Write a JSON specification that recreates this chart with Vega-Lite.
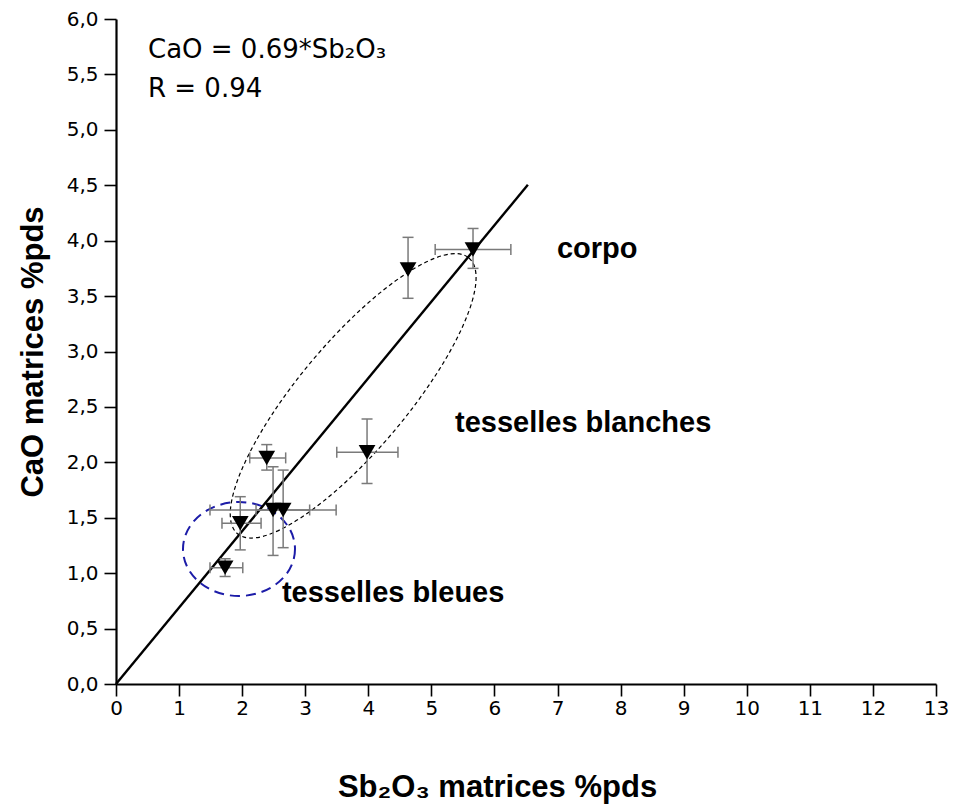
{
  "$schema": "https://vega.github.io/schema/vega-lite/v6.json",
  "width": 820,
  "height": 665,
  "autosize": {"type": "none"},
  "padding": {"left": 116, "top": 19, "right": 18, "bottom": 128},
  "background": "white",
  "config": {
    "view": {"stroke": null},
    "axis": {
      "grid": false,
      "domainColor": "black",
      "domainWidth": 2.2,
      "tickColor": "black",
      "tickWidth": 1.6,
      "labelFont": "DejaVu Sans",
      "labelFontSize": 20,
      "labelColor": "black",
      "labelOverlap": false,
      "labelFlush": false,
      "titleFont": "Liberation Sans",
      "titleFontSize": 31,
      "titleFontWeight": "bold",
      "titleColor": "black"
    }
  },
  "datasets": {
    "pts": [
      {"x": 1.73, "y": 1.05, "xlo": 1.49, "xhi": 2.01, "ylo": 0.97, "yhi": 1.13},
      {"x": 1.97, "y": 1.45, "xlo": 1.68, "xhi": 2.30, "ylo": 1.21, "yhi": 1.69},
      {"x": 2.49, "y": 1.57, "xlo": 1.49, "xhi": 3.49, "ylo": 1.16, "yhi": 1.96},
      {"x": 2.65, "y": 1.57, "xlo": 2.22, "xhi": 3.07, "ylo": 1.23, "yhi": 1.93},
      {"x": 2.39, "y": 2.04, "xlo": 2.12, "xhi": 2.69, "ylo": 1.93, "yhi": 2.16},
      {"x": 3.98, "y": 2.09, "xlo": 3.50, "xhi": 4.47, "ylo": 1.81, "yhi": 2.39},
      {"x": 4.63, "y": 3.74, "xlo": null, "xhi": null, "ylo": 3.48, "yhi": 4.03},
      {"x": 5.66, "y": 3.92, "xlo": 5.06, "xhi": 6.26, "ylo": 3.75, "yhi": 4.11}
    ],
    "fit": [
      {"x": 0, "y": 0},
      {"x": 6.53, "y": 4.505}
    ],
    "ell": [
      {"name": "bleu", "x": 1.95, "y": 1.218},
      {"name": "blanc", "x": 3.76, "y": 2.6}
    ],
    "labels": [
      {"label": "corpo", "x": 6.99, "y": 3.844},
      {"label": "tesselles blanches", "x": 5.374, "y": 2.274},
      {"label": "tesselles bleues", "x": 2.63, "y": 0.74}
    ],
    "eq": [
      {"label": "CaO = 0.69*Sb₂O₃", "x": 0.507, "y": 5.648},
      {"label": "R = 0.94", "x": 0.507, "y": 5.296}
    ]
  },
  "layer": [
    {
      "data": {"name": "ell"},
      "transform": [{"filter": "datum.name === 'bleu'"}],
      "mark": {
        "type": "point",
        "shape": "M 1 0 C 1 0.4634 0.5523 0.839 0 0.839 C -0.5523 0.839 -1 0.4634 -1 0 C -1 -0.4634 -0.5523 -0.839 0 -0.839 C 0.5523 -0.839 1 -0.4634 1 0 Z",
        "size": 12544,
        "filled": false,
        "color": "#1c1ca8",
        "stroke": "#1c1ca8",
        "strokeWidth": 2,
        "strokeDash": [10, 6],
        "opacity": 1
      },
      "encoding": {
        "x": {
          "field": "x",
          "type": "quantitative",
          "scale": {"domain": [0, 13], "nice": false, "zero": false},
          "axis": {
            "title": "Sb₂O₃ matrices %pds",
            "values": [0, 0.5, 1, 1.5, 2, 2.5, 3, 3.5, 4, 4.5, 5, 5.5, 6, 6.5, 7, 7.5, 8, 8.5, 9, 9.5, 10, 10.5, 11, 11.5, 12, 12.5, 13],
            "labelExpr": "datum.value % 1 === 0 ? format(datum.value, 'd') : ''",
            "tickSize": {"condition": {"test": "datum.value % 1 === 0", "value": 12}, "value": 6},
            "labelPadding": 2,
            "titleX": 381,
            "titleY": 112,
            "titleBaseline": "alphabetic",
            "titleAlign": "center"
          }
        },
        "y": {
          "field": "y",
          "type": "quantitative",
          "scale": {"domain": [0, 6], "nice": false, "zero": false},
          "axis": {
            "title": "CaO matrices %pds",
            "values": [0, 0.25, 0.5, 0.75, 1, 1.25, 1.5, 1.75, 2, 2.25, 2.5, 2.75, 3, 3.25, 3.5, 3.75, 4, 4.25, 4.5, 4.75, 5, 5.25, 5.5, 5.75, 6],
            "labelExpr": "(datum.value * 2) % 1 === 0 ? replace(format(datum.value, '.1f'), '.', ',') : ''",
            "tickSize": {"condition": {"test": "(datum.value * 2) % 1 === 0", "value": 12}, "value": 7},
            "labelPadding": 6,
            "titleX": -74,
            "titleY": 332.5,
            "titleAngle": 270,
            "titleBaseline": "alphabetic",
            "titleAlign": "center"
          }
        }
      }
    },
    {
      "data": {"name": "ell"},
      "transform": [{"filter": "datum.name === 'blanc'"}],
      "mark": {
        "type": "point",
        "shape": "M 1 0 C 1 0.1657 0.5523 0.3 0 0.3 C -0.5523 0.3 -1 0.1657 -1 0 C -1 -0.1657 -0.5523 -0.3 0 -0.3 C 0.5523 -0.3 1 -0.1657 1 0 Z",
        "size": 129600,
        "angle": 310,
        "filled": false,
        "color": "black",
        "stroke": "black",
        "strokeWidth": 1.2,
        "strokeDash": [4, 3],
        "opacity": 1
      },
      "encoding": {
        "x": {"field": "x", "type": "quantitative"},
        "y": {"field": "y", "type": "quantitative"}
      }
    },
    {
      "data": {"name": "fit"},
      "mark": {"type": "line", "color": "black", "strokeWidth": 2.4},
      "encoding": {
        "x": {"field": "x", "type": "quantitative"},
        "y": {"field": "y", "type": "quantitative"}
      }
    },
    {
      "data": {"name": "pts"},
      "transform": [{"filter": "datum.xlo != null"}],
      "mark": {"type": "rule", "color": "#7a7a7a", "strokeWidth": 1.5},
      "encoding": {
        "x": {"field": "xlo", "type": "quantitative"},
        "x2": {"field": "xhi"},
        "y": {"field": "y", "type": "quantitative"}
      }
    },
    {
      "data": {"name": "pts"},
      "mark": {"type": "rule", "color": "#7a7a7a", "strokeWidth": 1.5},
      "encoding": {
        "x": {"field": "x", "type": "quantitative"},
        "y": {"field": "ylo", "type": "quantitative"},
        "y2": {"field": "yhi"}
      }
    },
    {
      "data": {"name": "pts"},
      "transform": [{"filter": "datum.xlo != null"}],
      "mark": {"type": "tick", "orient": "vertical", "color": "#7a7a7a", "thickness": 1.5, "size": 11, "opacity": 1},
      "encoding": {
        "x": {"field": "xlo", "type": "quantitative"},
        "y": {"field": "y", "type": "quantitative"}
      }
    },
    {
      "data": {"name": "pts"},
      "transform": [{"filter": "datum.xhi != null"}],
      "mark": {"type": "tick", "orient": "vertical", "color": "#7a7a7a", "thickness": 1.5, "size": 11, "opacity": 1},
      "encoding": {
        "x": {"field": "xhi", "type": "quantitative"},
        "y": {"field": "y", "type": "quantitative"}
      }
    },
    {
      "data": {"name": "pts"},
      "mark": {"type": "tick", "orient": "horizontal", "color": "#7a7a7a", "thickness": 1.5, "size": 11, "opacity": 1},
      "encoding": {
        "x": {"field": "x", "type": "quantitative"},
        "y": {"field": "ylo", "type": "quantitative"}
      }
    },
    {
      "data": {"name": "pts"},
      "mark": {"type": "tick", "orient": "horizontal", "color": "#7a7a7a", "thickness": 1.5, "size": 11, "opacity": 1},
      "encoding": {
        "x": {"field": "x", "type": "quantitative"},
        "y": {"field": "yhi", "type": "quantitative"}
      }
    },
    {
      "data": {"name": "pts"},
      "mark": {"type": "point", "shape": "triangle-down", "filled": true, "color": "black", "size": 280, "opacity": 1},
      "encoding": {
        "x": {"field": "x", "type": "quantitative"},
        "y": {"field": "y", "type": "quantitative"}
      }
    },
    {
      "data": {"name": "labels"},
      "mark": {"type": "text", "font": "Liberation Sans", "fontWeight": "bold", "fontSize": 29, "align": "left", "baseline": "alphabetic", "color": "black"},
      "encoding": {
        "x": {"field": "x", "type": "quantitative"},
        "y": {"field": "y", "type": "quantitative"},
        "text": {"field": "label"}
      }
    },
    {
      "data": {"name": "eq"},
      "mark": {"type": "text", "font": "DejaVu Sans", "fontSize": 26, "align": "left", "baseline": "alphabetic", "color": "black"},
      "encoding": {
        "x": {"field": "x", "type": "quantitative"},
        "y": {"field": "y", "type": "quantitative"},
        "text": {"field": "label"}
      }
    }
  ]
}
